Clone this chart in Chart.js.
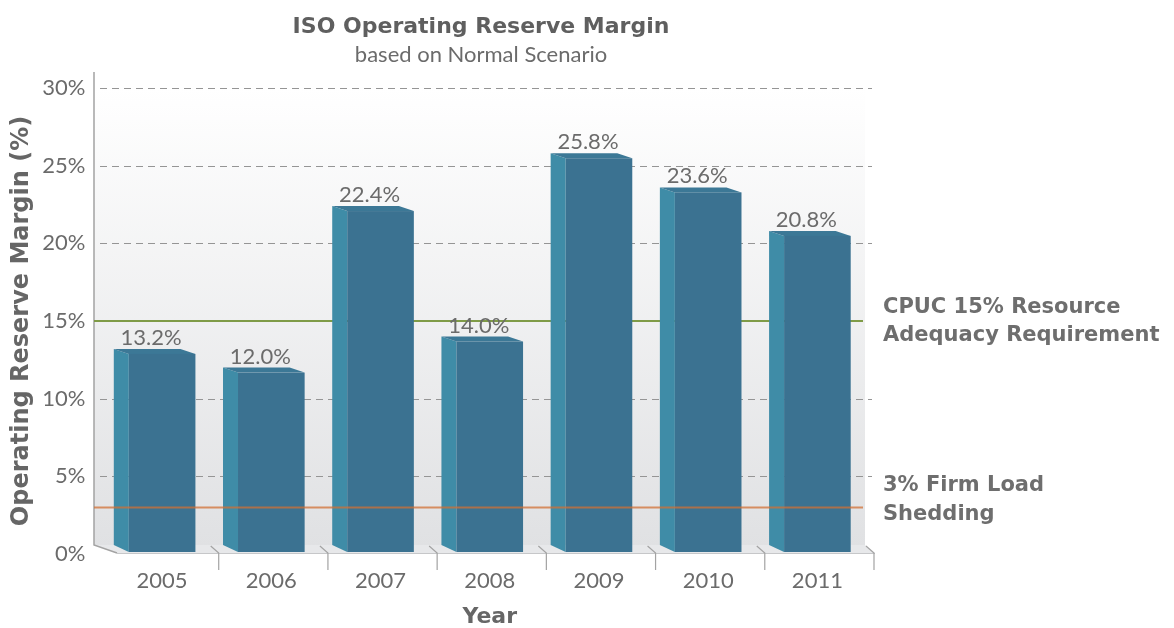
<!DOCTYPE html>
<html>
<head>
<meta charset="utf-8">
<script src="https://cdn.jsdelivr.net/npm/chart.js@4.4.0/dist/chart.umd.min.js"></script>
<style>
  html, body { margin: 0; padding: 0; background: #fff; }
</style>
</head>
<body>
<canvas id="chart" width="1174" height="628"></canvas>
<script>
// reserve margin by year (%)
const years = ['2005', '2006', '2007', '2008', '2009', '2010', '2011'];
const reserveMargin = [13.2, 12.0, 22.4, 14.0, 25.8, 23.6, 20.8];
const yTicks = [0, 5, 10, 15, 20, 25, 30];

// reference levels
const resourceAdequacy = 15;
const firmLoadShedding = 3;
const resourceLabel = ['CPUC 15% Resource', 'Adequacy Requirement'];
const sheddingLabel = ['3% Firm Load', 'Shedding'];

const LIGHT = 'Lato';
const BOLD = 'DejaVu Sans';
const TEXT = '#6b6b6b';
const FRONT = '#3b7291', SIDE = '#3f8ca7', TOP = '#3c7896';
const DX = 15, DY = 5;          // bar depth offset
const FLOOR_BACK = 546, FLOOR_FRONT = 553;
const WALL_L = 94, WALL_R = 865;

function poly(ctx, pts, fill) {
    ctx.beginPath();
    ctx.moveTo(pts[0][0], pts[0][1]);
    for (let i = 1; i < pts.length; i++) ctx.lineTo(pts[i][0], pts[i][1]);
    ctx.closePath();
    ctx.fillStyle = fill;
    ctx.fill();
}

function hline(ctx, y, x0, x1, color, width, dash) {
    ctx.save();
    ctx.strokeStyle = color;
    ctx.lineWidth = width;
    ctx.setLineDash(dash || []);
    ctx.beginPath();
    ctx.moveTo(x0, y);
    ctx.lineTo(x1, y);
    ctx.stroke();
    ctx.restore();
}

const bars3d = {
    id: 'bars3d',
    beforeDraw(chart) {
        const { ctx, chartArea: a } = chart;
        // back wall gradient
        const g = ctx.createLinearGradient(0, a.top, 0, FLOOR_BACK);
        g.addColorStop(0, '#ffffff');
        g.addColorStop(1, '#e0e1e3');
        ctx.fillStyle = g;
        ctx.fillRect(WALL_L, a.top, WALL_R - WALL_L, FLOOR_BACK - a.top);
    },
    beforeDatasetsDraw(chart) {
        const { ctx, chartArea: a, scales: { y } } = chart;

        // dashed grid on the back wall
        yTicks.forEach(v => {
            if (v === 0 || v === resourceAdequacy) return;
            hline(ctx, Math.round(y.getPixelForValue(v)) + 0.5, 100, 872, '#959595', 1, [7, 5]);
        });

        // floor
        poly(ctx, [[WALL_L, FLOOR_BACK - 1], [WALL_R, FLOOR_BACK - 1], [a.right + 3, FLOOR_FRONT], [117, FLOOR_FRONT]], '#e7e8ea');
        hline(ctx, FLOOR_FRONT + 0.5, 117, a.right + 3, '#c6c7c9', 1);

        ctx.save();
        ctx.strokeStyle = '#a3a3a3';
        ctx.lineWidth = 1.5;
        // left axis and floor edge
        ctx.beginPath();
        ctx.moveTo(WALL_L, 72);
        ctx.lineTo(WALL_L, FLOOR_BACK - 1);
        ctx.lineTo(117, FLOOR_FRONT);
        ctx.stroke();
        // category separators
        ctx.lineWidth = 1.2;
        const step = (a.right - a.left) / years.length;
        for (let k = 1; k <= years.length; k++) {
            const bx = a.left + step * k + 2;
            ctx.beginPath();
            ctx.moveTo(bx - 8, FLOOR_BACK);
            ctx.lineTo(bx, FLOOR_FRONT);
            ctx.lineTo(bx, 570);
            ctx.stroke();
        }
        ctx.restore();

        // resource adequacy level sits on the back wall
        hline(ctx, y.getPixelForValue(resourceAdequacy), WALL_L, WALL_R - 2, '#7f9b47', 2);
    },
    afterDatasetsDraw(chart) {
        const { ctx, scales: { y } } = chart;
        const meta = chart.getDatasetMeta(0);

        meta.data.forEach((el, i) => {
            const x0 = el.x - el.width / 2, x1 = el.x + el.width / 2;
            const yb = el.y, yf = el.y + DY;
            // side face
            poly(ctx, [[x0, yf], [x0 - DX, yb], [x0 - DX, FLOOR_BACK - 1], [x0, FLOOR_FRONT - 1]], SIDE);
            // top face
            poly(ctx, [[x0, yf], [x0 - DX, yb], [x1 - DX, yb], [x1, yf]], TOP);
            // front face
            ctx.fillStyle = FRONT;
            ctx.fillRect(x0, yf, x1 - x0, FLOOR_FRONT - 1 - yf);

            ctx.fillStyle = TEXT;
            ctx.font = '22px ' + LIGHT;
            ctx.textAlign = 'center';
            ctx.textBaseline = 'alphabetic';
            ctx.fillText(reserveMargin[i].toFixed(1) + '%', el.x - 11, yb - 4);
        });

        // firm load shedding level runs in front of the bars
        hline(ctx, y.getPixelForValue(firmLoadShedding), WALL_L, WALL_R - 2, 'rgba(210,112,52,0.75)', 2);

        // titles
        ctx.fillStyle = '#5f5f5f';
        ctx.textAlign = 'center';
        ctx.textBaseline = 'middle';
        ctx.font = 'bold 22px ' + BOLD;
        ctx.fillText('ISO Operating Reserve Margin', 481, 27);
        ctx.fillStyle = TEXT;
        ctx.font = '22px ' + LIGHT;
        ctx.fillText('based on Normal Scenario', 481, 55);

        // level captions
        ctx.fillStyle = '#6e6e6e';
        ctx.textAlign = 'left';
        ctx.font = 'bold 21px ' + BOLD;
        resourceLabel.forEach((t, k) => ctx.fillText(t, 883, 308 + k * 28));
        sheddingLabel.forEach((t, k) => ctx.fillText(t, 883, 486 + k * 29));
    }
};

new Chart(document.getElementById('chart'), {
    type: 'bar',
    data: {
        labels: years,
        datasets: [{
            data: reserveMargin,
            backgroundColor: 'rgba(0,0,0,0)',
            barPercentage: 0.61,
            categoryPercentage: 1
        }]
    },
    options: {
        responsive: false,
        animation: false,
        layout: { padding: { top: 88, right: 302, bottom: 0, left: 0 } },
        plugins: { legend: { display: false }, tooltip: { enabled: false } },
        scales: {
            x: {
                grid: { display: false, drawTicks: false },
                border: { display: false },
                ticks: { color: TEXT, font: { family: LIGHT, size: 22 }, padding: 14 },
                title: {
                    display: true, text: 'Year', color: '#666',
                    font: { family: BOLD, size: 22, weight: 'bold', lineHeight: 1 },
                    padding: 0
                },
                afterFit(s) { s.height = 74; }
            },
            y: {
                min: 0, max: 30,
                afterBuildTicks(s) { s.ticks = yTicks.map(v => ({ value: v })); },
                grid: { display: false, drawTicks: false },
                border: { display: false },
                ticks: {
                    color: TEXT, font: { family: LIGHT, size: 22 }, padding: 22,
                    callback: v => v + '%'
                },
                title: {
                    display: true, text: 'Operating Reserve Margin (%)', color: '#666',
                    font: { family: BOLD, size: 24, weight: 'bold', lineHeight: 1 },
                    padding: { top: 10, bottom: 0 }
                },
                afterFit(s) { s.width = 107.5; }
            }
        }
    },
    plugins: [bars3d]
});
</script>
</body>
</html>
